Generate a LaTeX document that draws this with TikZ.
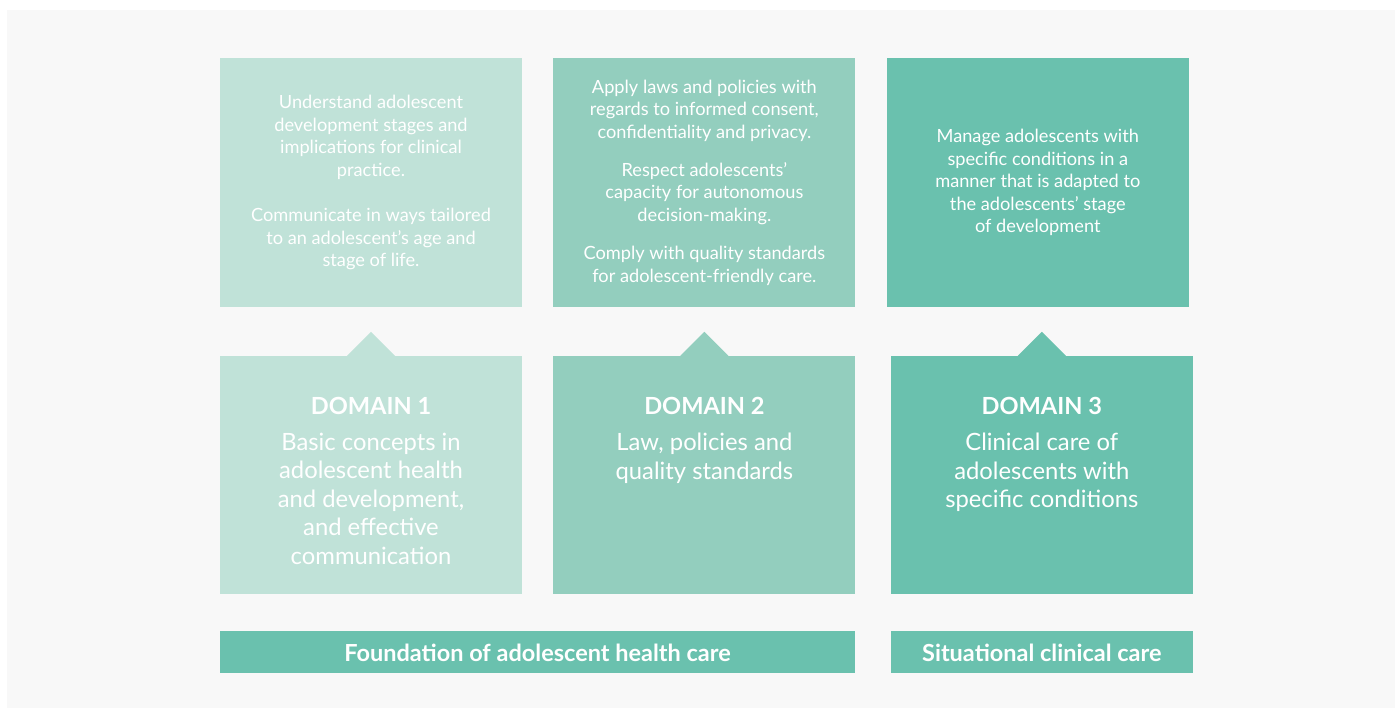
\documentclass[tikz,border=0pt]{standalone}
\usepackage{fontspec}
\setmainfont{Lato}
\usepackage{tikz}
\usetikzlibrary{positioning,calc}
\definecolor{bgcol}{HTML}{F8F8F8}
\definecolor{dom1col}{HTML}{C0E2D8}
\definecolor{dom2col}{HTML}{93CEBE}
\definecolor{dom3col}{HTML}{6AC1AE}
\tikzstyle{topbox}=[minimum width=302pt,minimum height=249pt,inner sep=0pt,text=white,align=center,font=\fontsize{18.2}{22.6}\selectfont]
\tikzstyle{dombox}=[minimum width=302pt,minimum height=238pt,inner sep=0pt]
\tikzstyle{domhead}=[inner sep=0pt,text=white,font=\fontsize{23.6}{28}\selectfont\bfseries]
\tikzstyle{domtext}=[inner sep=0pt,text=white,align=center,anchor=north,font=\fontsize{23.8}{28.5}\selectfont]
\tikzstyle{barbox}=[fill=dom3col,minimum height=42pt,inner sep=0pt,text=white,anchor=north west,font=\fontsize{23.5}{26}\selectfont\bfseries]

\begin{document}
\begin{tikzpicture}[x=1pt,y=-1pt]
    \useasboundingbox (0,0) rectangle (1395,708);
    \fill[bgcol] (7,10) rectangle (1395,708);

    % learning goals
    \node [topbox,fill=dom1col] (goal1) at (371,182.5) {Understand adolescent\\development stages and\\implications for clinical\\practice.\\[22.6pt]Communicate in ways tailored\\to an adolescent’s age and\\stage of life.};
    \node [topbox,fill=dom2col,right=31pt of goal1] (goal2) {Apply laws and policies with\\regards to informed consent,\\confidentiality and privacy.\\[15.4pt]Respect adolescents’\\capacity for autonomous\\decision-making.\\[15.4pt]Comply with quality standards\\for adolescent-friendly care.};
    \node [topbox,fill=dom3col,right=31pt of goal2] (goal3) {Manage adolescents with\\specific conditions in a\\manner that is adapted to\\the adolescents’ stage\\of development};

    % domains
    \node [dombox,fill=dom1col] (dom1) at (371,475) {};
    \node [dombox,fill=dom2col,right=31pt of dom1] (dom2) {};
    \node [dombox,fill=dom3col,right=35pt of dom2] (dom3) {};
    \foreach \n/\c in {1/dom1col,2/dom2col,3/dom3col}
      \fill [\c] ([xshift=-24pt]dom\n.north) -- ([yshift=24pt]dom\n.north) -- ([xshift=24pt]dom\n.north) -- cycle;

    \node [domhead] (head1) at ([yshift=-50pt]dom1.north) {DOMAIN 1};
    \node [domhead] (head2) at ([yshift=-50pt]dom2.north) {DOMAIN 2};
    \node [domhead] (head3) at ([yshift=-50pt]dom3.north) {DOMAIN 3};
    \node [domtext] (desc1) at ([yshift=-77pt]dom1.north) {Basic concepts in\\adolescent health\\and development,\\and effective\\communication};
    \node [domtext] (desc2) at ([yshift=-77pt]dom2.north) {Law, policies and\\quality standards};
    \node [domtext] (desc3) at ([yshift=-77pt]dom3.north) {Clinical care of\\adolescents with\\specific conditions};

    % groups
    \node [barbox,minimum width=635pt] (found) at ([yshift=-37pt]dom1.south west) {Foundation of adolescent health care};
    \node [barbox,minimum width=302pt] (situ) at ([yshift=-37pt]dom3.south west) {Situational clinical care};
  \end{tikzpicture}
\end{document}
